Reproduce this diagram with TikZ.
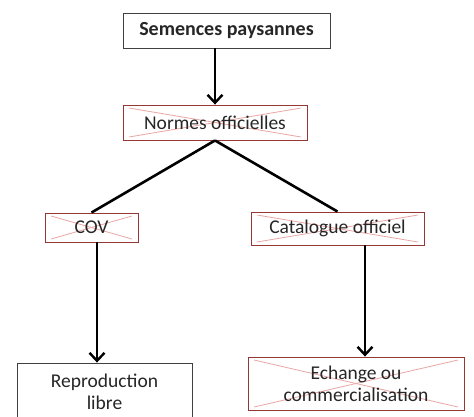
\documentclass[tikz,border=0pt]{standalone}
\usepackage{fontspec}
\setmainfont{Carlito}
\usetikzlibrary{arrows.meta}
\definecolor{boxred}{HTML}{953735}
\definecolor{crossred}{HTML}{E8A6A4}
\definecolor{ink}{HTML}{262626}
\tikzset{
  basebox/.style={draw, line width=0.9pt, inner sep=0pt, align=center,
    font=\fontsize{19.5}{22}\selectfont, text=ink},
  plainbox/.style={basebox, draw=black!75},
  redbox/.style={basebox, draw=boxred,
    path picture={
      \draw[crossred, line width=0.8pt]
        ([shift={(6pt,-3pt)}]path picture bounding box.north west) --
        ([shift={(-6pt,3pt)}]path picture bounding box.south east);
      \draw[crossred, line width=0.8pt]
        ([shift={(-6pt,-3pt)}]path picture bounding box.north east) --
        ([shift={(6pt,3pt)}]path picture bounding box.south west);
    }},
  link/.style={line width=2.6pt, black},
  arr/.style={link, -{Straight Barb[length=8pt, width=15pt, line width=2.4pt]}}
}
\begin{document}
\begin{tikzpicture}[x=1pt, y=-1pt]
  \useasboundingbox[fill=white] (0,0) rectangle (474,416);
  \clip (0,0) rectangle (474,416);

  % boxes
  \node[plainbox, minimum width=207pt, minimum height=35pt, font=\fontsize{20}{22}\selectfont\bfseries]
    (top) at (226.5,30.5) {Semences paysannes};
  \node[redbox, minimum width=184pt, minimum height=35pt] (norm) at (215,122.5) {Normes officielles};
  \node[redbox, minimum width=93pt, minimum height=29pt] (cov) at (91.5,227.5) {COV};
  \node[redbox, minimum width=173pt, minimum height=33pt] (cat) at (337.5,228.5) {Catalogue officiel};
  \node[plainbox, minimum width=175pt, minimum height=62pt] (repro) at (104.5,394) {};
  \node[font=\fontsize{19.5}{22}\selectfont, text=ink, align=center] (reprotxt) at (104.5,392)
    {Reproduction\\libre};
  \node[redbox, minimum width=216pt, minimum height=53pt] (ech) at (356,383.5)
    {Echange ou\\commercialisation};

  % connectors
  \draw[arr] (norm.north |- top.south) -- (norm.north);
  \draw[link] (norm.south) -- (cov.north);
  \draw[link] (norm.south) -- (cat.north);
  \draw[arr] ([xshift=5.5pt]cov.south) -- ([xshift=5.5pt]cov.south |- repro.north);
  \draw[arr] ([xshift=27.5pt]cat.south) -- ([xshift=27.5pt]cat.south |- ech.north);
\end{tikzpicture}
\end{document}
